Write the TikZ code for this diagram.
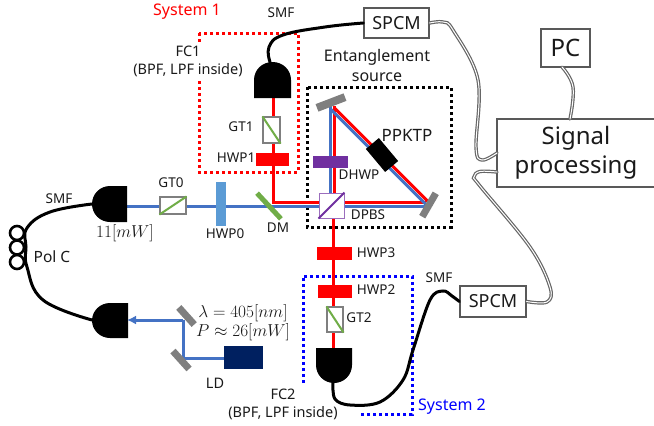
\documentclass[tikz,border=0pt]{standalone}
\usepackage[no-math]{fontspec}
\usetikzlibrary{arrows.meta}
\setmainfont{Noto Sans}
\newcommand{\fsz}[1]{\fontsize{#1}{#1}\selectfont}
\definecolor{beamblue}{HTML}{4472C4}
\definecolor{hwpblue}{HTML}{5B9BD5}
\definecolor{gtgreen}{HTML}{70AD47}
\definecolor{dpurple}{HTML}{7030A0}
\definecolor{mirgray}{HTML}{7F7F7F}
\definecolor{ldnavy}{HTML}{002060}
\definecolor{txt}{HTML}{1A1A1A}
\tikzset{
  bluebeam/.style={draw=beamblue,line width=3pt},
  redbeam/.style={draw=red,line width=3pt},
  fiber/.style={draw=black,line width=3pt,line cap=round},
  cable/.style={draw=mirgray!80!black,line width=1.2pt,double=white,double distance=1pt,line cap=round},
  dotbox/.style={line width=3pt,dash pattern=on 3pt off 3pt},
  lab/.style={inner sep=0pt,text=txt,font=\fsz{13.5}},
  plate/.style={inner sep=0pt,draw=none,fill=red},
  mirror/.style={inner sep=0pt,fill=mirgray,draw=none},
  gt/.style={inner sep=0pt,draw=mirgray,line width=1.1pt,fill=white},
  boxed/.style={inner sep=0pt,draw=mirgray!70!black,line width=1.3pt,fill=white,text=txt,align=center},
  polc/.style={circle,inner sep=0pt,minimum size=14pt,draw=black,line width=2.6pt,fill=white},
  fc/.style={fill=black},
}
\begin{document}
\begin{tikzpicture}[x=1pt,y=-1pt]
\useasboundingbox (0,0) rectangle (654,426);
\fill[white] (0,0) rectangle (654,426);
% anchors
\coordinate (fc0out) at (127,206);
\coordinate (fc0fib) at (92,204);
\coordinate (fc3in) at (127,320);
\coordinate (fc3fib) at (92,320);
\coordinate (fc1in) at (273,98);
\coordinate (fc1fib) at (270,62);
\coordinate (fc2in) at (333.5,348);
\coordinate (fc2fib) at (333,383);
\coordinate (dmred) at (273,202.5);
\coordinate (rmr) at (426,202.5);
\coordinate (bmr) at (426,206);
\coordinate (rmt) at (334,106);
\coordinate (bmt) at (330.5,106);
\coordinate (rmt2) at (334.5,108);
\coordinate (bmt2) at (330.5,109);
\coordinate (rmr2) at (428.5,202);
\coordinate (bmr2) at (426,204.5);
\coordinate (m1c) at (183,320);
\coordinate (m2c) at (183,358);
\coordinate (spa) at (497,153);
\coordinate (spb) at (497,172);
\coordinate (pcb) at (562,67);
\coordinate (spt) at (570,119);
% dotted boxes
\draw[dotbox,red] (199,33) rectangle (298,172);
\draw[dotbox,black] (307,87) rectangle (451,227);
\draw[dotbox,blue] (303,383) -- (303,276) -- (412,276) -- (412,414) -- (359,414);
% beams
\draw[bluebeam] (fc0out) -- (bmr);
\draw[redbeam] (fc1in) -- (dmred) -- (rmr);
\draw[bluebeam] (bmt) -- (330.5,193);
\draw[redbeam] (rmt) -- (334,193);
\draw[bluebeam] (bmt2) -- (bmr2);
\draw[redbeam] (rmt2) -- (rmr2);
\draw[redbeam] (333.5,218) -- (fc2in);
\draw[bluebeam] (m2c) -- (224,358);
\draw[bluebeam] (m2c) -- (m1c);
% fiber couplers
\fill[fc] (127,186) -- (110,186) .. controls (100,186) and (92,194) .. (92,204) .. controls (92,214) and (100,222) .. (110,222) -- (127,222) -- cycle;
\fill[fc] (128,303) -- (110,303) .. controls (100,303) and (92,311) .. (92,320.5) .. controls (92,330) and (100,338) .. (110,338) -- (128,338) -- cycle;
\fill[fc] (254,98) -- (254,80) .. controls (254,70) and (262,62) .. (272.5,62) .. controls (283,62) and (291,70) .. (291,80) -- (291,98) -- cycle;
\fill[fc] (316,348) -- (316,365) .. controls (316,375) and (324,383) .. (334,383) .. controls (344,383) and (352,375) .. (352,365) -- (352,348) -- cycle;
\draw[bluebeam,-{Latex[length=9pt,width=9pt]}] (m1c) -- (fc3in);
% optics
\node[gt,minimum width=26pt,minimum height=17pt] (gt0) at (173,205.5) {};
\draw[gtgreen,line width=2pt] (gt0.south west) -- (gt0.north east);
\node[inner sep=0pt,fill=hwpblue,minimum width=10.5pt,minimum height=44pt] (hwp0) at (221,204) {};
\node[inner sep=0pt,fill=gtgreen,minimum width=35pt,minimum height=5pt,rotate=-47] (dm) at (269,206) {};
\node[gt,minimum width=17pt,minimum height=26pt] (gt1) at (271.5,130) {};
\draw[gtgreen,line width=2pt] (gt1.north west) -- (gt1.south east);
\node[plate,minimum width=33pt,minimum height=13pt] (hwp1) at (272.5,159.5) {};
\node[mirror,minimum width=30pt,minimum height=8pt,rotate=21] (mt) at (331,102.5) {};
\node[mirror,minimum width=27pt,minimum height=7pt,rotate=60] (mr) at (429,205) {};
\node[inner sep=0pt,fill=dpurple,minimum width=35pt,minimum height=12pt] (dhwp) at (330.5,162) {};
\node[inner sep=0pt,fill=black,minimum width=30pt,minimum height=17pt,rotate=-50] (ppktp) at (382,155) {};
\node[inner sep=0pt,draw=dpurple!70,line width=1pt,fill=white,minimum width=25pt,minimum height=25pt] (dpbs) at (331.5,205.5) {};
\draw[dpurple,line width=1.8pt] (dpbs.south west) -- (dpbs.north east);
\node[plate,minimum width=35pt,minimum height=13pt] (hwp3) at (334.5,253.5) {};
\node[plate,minimum width=34pt,minimum height=13pt] (hwp2) at (335,291.5) {};
\node[gt,minimum width=16pt,minimum height=25pt] (gt2) at (335,319.5) {};
\draw[gtgreen,line width=2pt] (gt2.north west) -- (gt2.south east);
\node[mirror,minimum width=23pt,minimum height=7pt,rotate=-48] (m1) at (186.5,316) {};
\node[mirror,minimum width=24pt,minimum height=7pt,rotate=-48] (m2) at (181,360) {};
\node[inner sep=0pt,fill=ldnavy,minimum width=39pt,minimum height=23pt] (ld) at (243.5,357.5) {};
% polarisation controller
\node[polc] (pa) at (17,233) {};
\node[polc] (pb) at (17,247.5) {};
\node[polc] (pc) at (17,262) {};
% boxes
\node[boxed,minimum width=65pt,minimum height=30pt,font=\fsz{18}] (spcm1) at (396.5,23) {SPCM};
\node[boxed,minimum width=66pt,minimum height=31pt,font=\fsz{18}] (spcm2) at (493,301.5) {SPCM};
\node[boxed,minimum width=49pt,minimum height=38pt,font=\fsz{24}] (pc) at (565.5,48) {PC};
\node[boxed,minimum width=158pt,minimum height=68pt,font=\fsz{24}] (sp) at (576,153) {Signal\\[5pt]processing};
% labels with an opaque ground
\node[lab,align=center,font=\fsz{14.5},fill=white,inner ysep=3pt,inner xsep=1pt] (t4) at (188,61) {FC1\\[3.5pt](BPF, LPF inside)};
\node[lab,align=center,font=\fsz{14.5}] (t5) at (283,404) {FC2\\[3.5pt](BPF, LPF inside)};
% fibers
\draw[fiber] plot[smooth,tension=0.7] coordinates {(fc0fib) (50,212) (27,228) (26,247) (27,267) (43,300) (fc3fib)};
\draw[fiber] plot[smooth,tension=0.7] coordinates {(spcm1.west) (325,27) (283,35) (269,47) (fc1fib)};
\draw[fiber] plot[smooth,tension=0.6] coordinates {(fc2fib) (335,399) (350,405) (380,402) (403,380) (413,350) (430,300) (443,291) (452,296) (spcm2.west)};
% cables
\draw[cable] plot[smooth,tension=0.6] coordinates {(spcm1.east) (443,22) (453,30) (478,80) (476,147) (482,160) (spa)};
\draw[cable] plot[smooth,tension=0.6] coordinates {(spcm2.east) (547,302) (550,287) (530,247) (480,186) (474,177) (480,171.5) (spb)};
\draw[cable] plot[smooth,tension=0.7] coordinates {(pcb) (573,87) (spt)};
% labels
\node[lab,text=red,font=\fsz{16}] (t1) at (187,12) {System 1};
\node[lab,text=blue,font=\fsz{16}] (t2) at (452,407) {System 2};
\node[lab] (t3) at (281,13) {SMF};
\node[lab,font=\fsz{16}] (t6) at (377,57) {Entanglement};
\node[lab,font=\fsz{16}] (t7) at (377,77) {source};
\node[lab,font=\fsz{17}] (t8) at (407,135) {PPKTP};
\node[lab] (t9) at (241,127) {GT1};
\node[lab] (t10) at (236,158) {HWP1};
\node[lab] (t11) at (359,175) {DHWP};
\node[lab] (t12) at (368,215) {DPBS};
\node[lab] (t13) at (278,228) {DM};
\node[lab] (t14) at (225,234) {HWP0};
\node[lab] (t15) at (171,183) {GT0};
\node[lab] (t16) at (59,199) {SMF};
\node[lab,font=\fsz{15.5}] (t17) at (52,257) {Pol C};
\node[lab,font=\fsz{17.5}] (t18) at (125,233) {$11[mW]$};
\node[lab,font=\fsz{17.5}] (t19) at (243,313) {$\lambda=405[nm]$};
\node[lab,font=\fsz{17.5}] (t20) at (243,332) {$P\approx26[mW]$};
\node[lab,font=\fsz{14.5}] (t21) at (215,383) {LD};
\node[lab] (t22) at (376,253) {HWP3};
\node[lab] (t23) at (376,290) {HWP2};
\node[lab] (t24) at (359,318) {GT2};
\node[lab] (t25) at (439,278) {SMF};
\end{tikzpicture}
\end{document}
